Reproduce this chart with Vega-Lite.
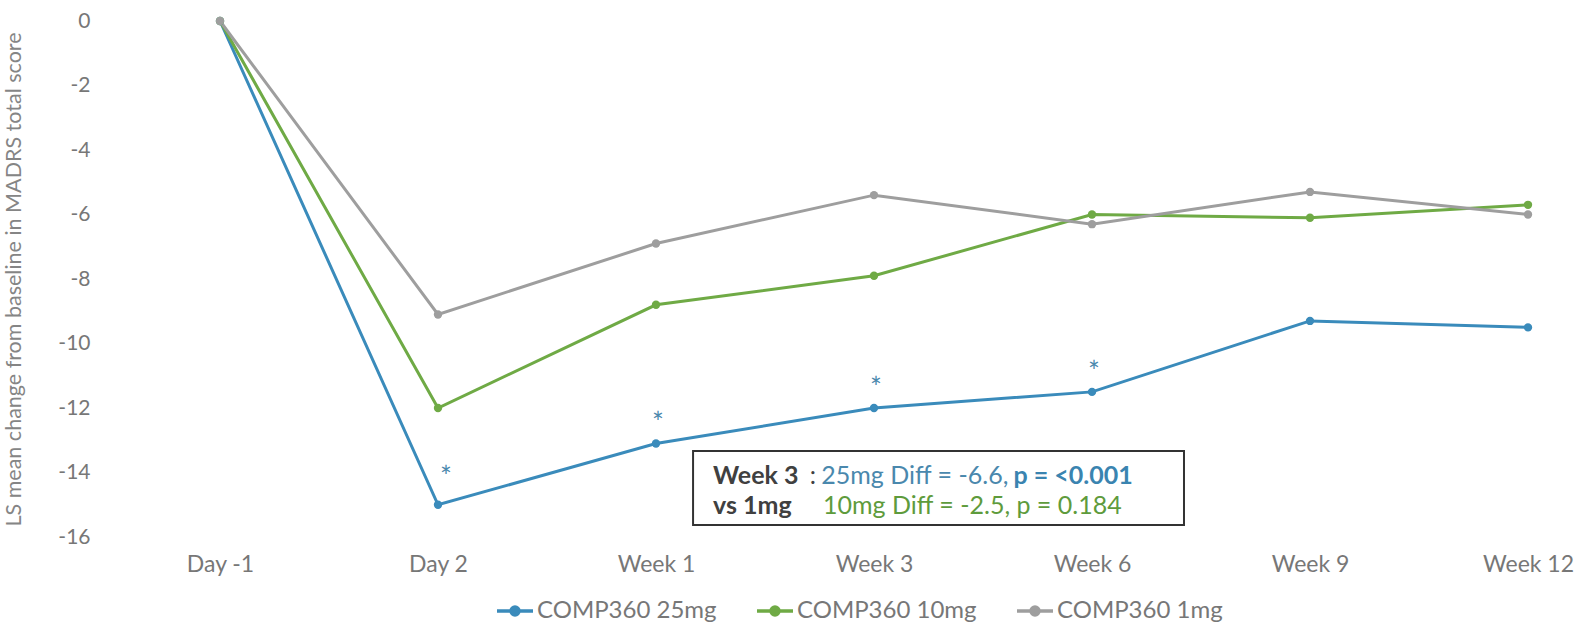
{
  "$schema": "https://vega.github.io/schema/vega-lite/v6.json",
  "width": 1308,
  "height": 516,
  "autosize": "none",
  "padding": {"left": 220, "top": 21, "right": 50, "bottom": 86},
  "background": "white",
  "config": {"view": {"stroke": null}, "font": "Lato"},
  "datasets": {
    "main": [
      {"visit": "Day -1", "series": "COMP360 25mg", "value": 0, "sig": false},
      {"visit": "Day 2", "series": "COMP360 25mg", "value": -15.0, "sig": true},
      {"visit": "Week 1", "series": "COMP360 25mg", "value": -13.1, "sig": true},
      {"visit": "Week 3", "series": "COMP360 25mg", "value": -12.0, "sig": true},
      {"visit": "Week 6", "series": "COMP360 25mg", "value": -11.5, "sig": true},
      {"visit": "Week 9", "series": "COMP360 25mg", "value": -9.3, "sig": false},
      {"visit": "Week 12", "series": "COMP360 25mg", "value": -9.5, "sig": false},
      {"visit": "Day -1", "series": "COMP360 10mg", "value": 0, "sig": false},
      {"visit": "Day 2", "series": "COMP360 10mg", "value": -12.0, "sig": false},
      {"visit": "Week 1", "series": "COMP360 10mg", "value": -8.8, "sig": false},
      {"visit": "Week 3", "series": "COMP360 10mg", "value": -7.9, "sig": false},
      {"visit": "Week 6", "series": "COMP360 10mg", "value": -6.0, "sig": false},
      {"visit": "Week 9", "series": "COMP360 10mg", "value": -6.1, "sig": false},
      {"visit": "Week 12", "series": "COMP360 10mg", "value": -5.7, "sig": false},
      {"visit": "Day -1", "series": "COMP360 1mg", "value": 0, "sig": false},
      {"visit": "Day 2", "series": "COMP360 1mg", "value": -9.1, "sig": false},
      {"visit": "Week 1", "series": "COMP360 1mg", "value": -6.9, "sig": false},
      {"visit": "Week 3", "series": "COMP360 1mg", "value": -5.4, "sig": false},
      {"visit": "Week 6", "series": "COMP360 1mg", "value": -6.3, "sig": false},
      {"visit": "Week 9", "series": "COMP360 1mg", "value": -5.3, "sig": false},
      {"visit": "Week 12", "series": "COMP360 1mg", "value": -6.0, "sig": false}
    ]
  },
  "resolve": {"scale": {"x": "independent"}},
  "layer": [
    {
      "data": {"name": "main"},
      "encoding": {
        "x": {
          "field": "visit",
          "type": "ordinal",
          "sort": ["Day -1", "Day 2", "Week 1", "Week 3", "Week 6", "Week 9", "Week 12"],
          "scale": {"type": "point", "padding": 0},
          "axis": {
            "title": null,
            "domain": false,
            "ticks": false,
            "grid": false,
            "labelAngle": 0,
            "labelFontSize": 23,
            "labelColor": "#777777",
            "labelPadding": 16
          }
        },
        "y": {
          "field": "value",
          "type": "quantitative",
          "scale": {"domain": [-16, 0], "nice": false, "zero": false},
          "axis": {
            "title": "LS mean change from baseline in MADRS total score",
            "titleFontSize": 21.5,
            "titleFontWeight": "normal",
            "titleColor": "#858585",
            "titlePadding": 32,
            "values": [0, -2, -4, -6, -8, -10, -12, -14, -16],
            "labelExpr": "'' + datum.value",
            "domain": false,
            "ticks": false,
            "grid": false,
            "offset": 120,
            "labelPadding": 10,
            "labelFontSize": 21,
            "labelColor": "#777777"
          }
        },
        "color": {
          "field": "series",
          "type": "nominal",
          "scale": {
            "domain": ["COMP360 25mg", "COMP360 10mg", "COMP360 1mg"],
            "range": ["#3a8bbb", "#6faa45", "#9e9e9e"]
          },
          "legend": {
            "title": null,
            "orient": "none",
            "direction": "horizontal",
            "legendX": 275,
            "legendY": 570,
            "symbolType": "M-1,0L1,0M0.22,0A0.22,0.22,0,1,1,-0.22,0A0.22,0.22,0,1,1,0.22,0",
            "symbolSize": 1296,
            "symbolStrokeWidth": 3.5,
            "labelFontSize": 24,
            "labelLimit": 400,
            "labelColor": "#777777",
            "labelOffset": 2,
            "columnPadding": 33,
            "encode": {
              "symbols": {
                "update": {
                  "fill": {"scale": "color", "field": "value"},
                  "stroke": {"scale": "color", "field": "value"},
                  "opacity": {"value": 1}
                }
              }
            }
          }
        }
      },
      "layer": [
        {"mark": {"type": "line", "strokeWidth": 3}},
        {"mark": {"type": "point", "filled": true, "size": 70, "opacity": 1}},
        {
          "transform": [{"filter": "datum.sig && datum.visit != 'Day 2'"}],
          "mark": {"type": "text", "text": "*", "fontSize": 28, "baseline": "alphabetic", "dy": -10, "dx": 2},
          "encoding": {"color": {"value": "#4a88ad"}}
        },
        {
          "transform": [{"filter": "datum.sig && datum.visit == 'Day 2'"}],
          "mark": {"type": "text", "text": "*", "fontSize": 28, "baseline": "alphabetic", "dy": -18, "dx": 8},
          "encoding": {"color": {"value": "#4a88ad"}}
        }
      ]
    },
    {
      "data": {"values": [{}]},
      "layer": [
        {
          "mark": {"type": "rect", "fill": "white", "stroke": "#333333", "strokeWidth": 2},
          "encoding": {
            "x": {"datum": 2.17, "type": "quantitative", "scale": {"domain": [0, 6], "nice": false, "zero": false}, "axis": null},
            "x2": {"datum": 4.422},
            "y": {"datum": -13.33, "type": "quantitative"},
            "y2": {"datum": -15.63}
          }
        },
        {
          "mark": {"type": "text", "text": "Week 3", "fontSize": 25, "fontWeight": "bold", "color": "#404040", "align": "left", "baseline": "middle"},
          "encoding": {
            "x": {"datum": 2.262, "type": "quantitative", "scale": {"domain": [0, 6], "nice": false, "zero": false}, "axis": null},
            "y": {"datum": -14.11, "type": "quantitative"}
          }
        },
        {
          "mark": {"type": "text", "text": ":", "fontSize": 25, "color": "#404040", "align": "left", "baseline": "middle"},
          "encoding": {
            "x": {"datum": 2.705, "type": "quantitative", "scale": {"domain": [0, 6], "nice": false, "zero": false}, "axis": null},
            "y": {"datum": -14.11, "type": "quantitative"}
          }
        },
        {
          "mark": {"type": "text", "text": "25mg Diff = -6.6,", "fontSize": 25, "color": "#4a88ad", "align": "left", "baseline": "middle"},
          "encoding": {
            "x": {"datum": 2.758, "type": "quantitative", "scale": {"domain": [0, 6], "nice": false, "zero": false}, "axis": null},
            "y": {"datum": -14.11, "type": "quantitative"}
          }
        },
        {
          "mark": {"type": "text", "text": "p = <0.001", "fontSize": 25, "fontWeight": "bold", "color": "#3a84b0", "align": "left", "baseline": "middle"},
          "encoding": {
            "x": {"datum": 3.64, "type": "quantitative", "scale": {"domain": [0, 6], "nice": false, "zero": false}, "axis": null},
            "y": {"datum": -14.11, "type": "quantitative"}
          }
        },
        {
          "mark": {"type": "text", "text": "vs 1mg", "fontSize": 25, "fontWeight": "bold", "color": "#404040", "align": "left", "baseline": "middle"},
          "encoding": {
            "x": {"datum": 2.262, "type": "quantitative", "scale": {"domain": [0, 6], "nice": false, "zero": false}, "axis": null},
            "y": {"datum": -15.04, "type": "quantitative"}
          }
        },
        {
          "mark": {"type": "text", "text": "10mg Diff = -2.5, p = 0.184", "fontSize": 25, "color": "#5e9b3c", "align": "left", "baseline": "middle"},
          "encoding": {
            "x": {"datum": 2.766, "type": "quantitative", "scale": {"domain": [0, 6], "nice": false, "zero": false}, "axis": null},
            "y": {"datum": -15.04, "type": "quantitative"}
          }
        }
      ]
    }
  ]
}
